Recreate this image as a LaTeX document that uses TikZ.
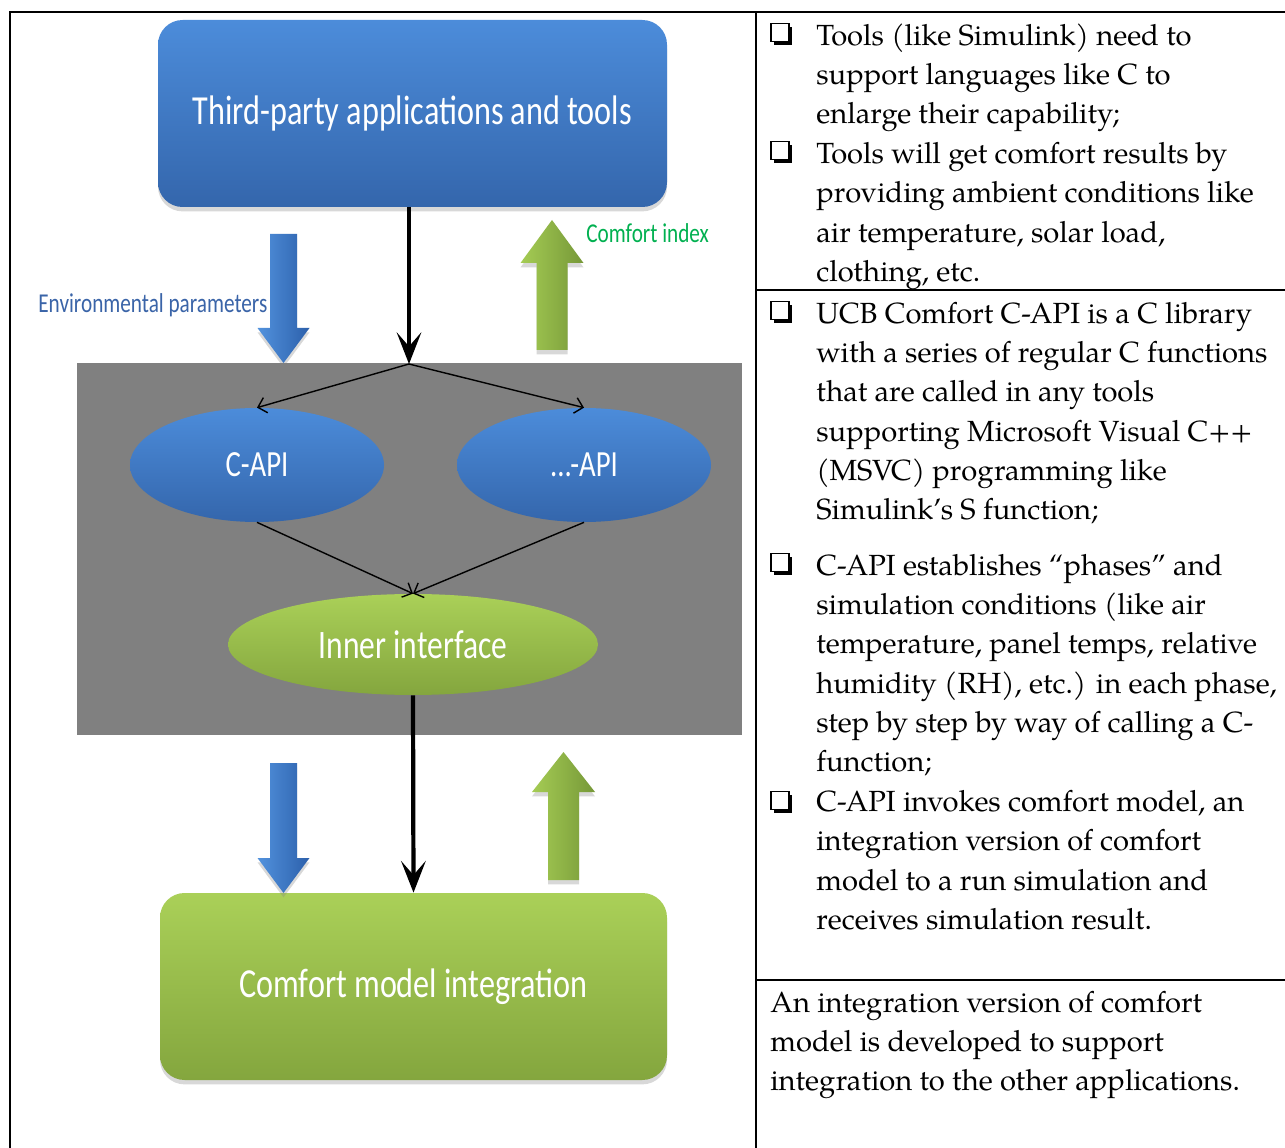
\documentclass[tikz,border=0pt]{standalone}
\usepackage{fontspec}
\setmainfont{TeX Gyre Pagella}
\newfontfamily\calfont[FakeStretch=0.78]{Carlito}
\usetikzlibrary{arrows.meta,shapes.geometric,shadows}
\def\pxu{0.02cm}
\definecolor{boxblueT}{RGB}{76,140,218}
\definecolor{boxblueB}{RGB}{52,102,172}
\definecolor{boxgreenT}{RGB}{170,208,88}
\definecolor{boxgreenB}{RGB}{132,166,62}
\definecolor{panelgray}{RGB}{128,128,128}
\definecolor{envblue}{RGB}{58,100,168}
\definecolor{cigreen}{RGB}{0,176,80}
\definecolor{arrblueL}{RGB}{82,146,222}
\definecolor{arrblueR}{RGB}{44,96,170}
\definecolor{arrgreenL}{RGB}{165,204,84}
\definecolor{arrgreenR}{RGB}{118,152,56}
\tikzset{
  softshadow/.style={drop shadow={opacity=0.3, shadow xshift=0pt, shadow yshift=-2.5pt}},
  bluebox/.style={rectangle, rounded corners=14pt, top color=boxblueT, bottom color=boxblueB, softshadow, inner sep=0pt, text=white},
  greenbox/.style={rectangle, rounded corners=14pt, top color=boxgreenT, bottom color=boxgreenB, softshadow, inner sep=0pt, text=white},
  blueell/.style={ellipse, top color=boxblueT, bottom color=boxblueB, softshadow, inner sep=0pt, text=white},
  greenell/.style={ellipse, top color=boxgreenT, bottom color=boxgreenB, softshadow, inner sep=0pt, text=white},
  panel/.style={rectangle, fill=panelgray, inner sep=0pt},
  bigfont/.style={font=\calfont\fontsize{23.5}{28}\selectfont},
  midfont/.style={font=\calfont\fontsize{21}{25}\selectfont},
  innerfont/.style={font=\calfont\fontsize{23}{27}\selectfont},
  lblfont/.style={font=\calfont\fontsize{15.5}{18}\selectfont},
  thickarrow/.style={line width=2.4pt, -{Stealth[length=18pt,width=14pt,inset=8pt]}},
  thinarrow/.style={line width=0.8pt, -{Straight Barb[length=4.5pt,width=9pt]}},
  rtext/.style={anchor=north west, inner sep=0pt, align=left, font=\fontsize{16.6}{22.34}\selectfont},
  chk/.style={draw=black, line width=0.9pt, fill=white, minimum size=18*\pxu, inner sep=0pt,
    drop shadow={fill=black, opacity=1, shadow xshift=1.8pt, shadow yshift=-1.8pt}},
  frame/.style={line width=1.1pt, black},
  bluearr/.style={left color=arrblueL, right color=arrblueR, softshadow},
  greenarr/.style={left color=arrgreenL, right color=arrgreenR, softshadow}
}
\newcommand\blockdown[5]{%
  \path[#5] (#1-13.5,#2) -- (#1+13.5,#2) -- (#1+13.5,#3) -- (#1+26,#3) -- (#1,#4) -- (#1-26,#3) -- (#1-13.5,#3) -- cycle;}
\newcommand\blockup[5]{%
  \path[#5] (#1-15.5,#2) -- (#1+15.5,#2) -- (#1+15.5,#3) -- (#1+31.5,#3) -- (#1,#4) -- (#1-31.5,#3) -- (#1-15.5,#3) -- cycle;}
\begin{document}
\begin{tikzpicture}[x=0.02cm, y=-0.02cm]
\useasboundingbox (0,0) rectangle (1285,1148);
\fill[white] (0,0) rectangle (1285,1148);

% frame lines
\draw[frame] (10,1148) -- (10,12) -- (1285,12);
\draw[frame] (756,12) -- (756,1148);
\draw[frame] (756,290) -- (1285,290);
\draw[frame] (756,980) -- (1285,980);

% gray panel
\node[panel, minimum width=665*\pxu, minimum height=372*\pxu] (panel) at (409.5,549) {};

% boxes
\node[bluebox, bigfont, minimum width=509*\pxu, minimum height=187*\pxu] (top) at (412.5,113.5) {Third-party applications and tools};
\node[greenbox, bigfont, minimum width=507*\pxu, minimum height=187*\pxu] (bottom) at (413.5,986.5) {Comfort model integration};

% ellipses
\node[blueell, midfont, minimum width=254*\pxu, minimum height=114*\pxu] (capi) at (257,465) {C-API};
\node[blueell, midfont, minimum width=254*\pxu, minimum height=114*\pxu] (oapi) at (584,465) {...-API};
\node[greenell, innerfont, minimum width=370*\pxu, minimum height=101*\pxu] (inner) at (413,644.5) {Inner interface};

% block arrows
\blockdown{283.5}{234}{328}{363}{bluearr}
\blockup{552}{350}{263}{220}{greenarr}
\blockdown{283.5}{763}{858}{893}{bluearr}
\blockup{563.5}{880}{792}{752}{greenarr}

% labels
\node[lblfont, text=envblue, anchor=west, inner sep=0pt] (envlbl) at (38,305) {Environmental parameters};
\node[lblfont, text=cigreen, anchor=west, inner sep=0pt] (cilbl) at (586,233) {Comfort index};

% connectors
\coordinate (fork) at (409,364);
\draw[thickarrow] (top.south -| fork) -- (fork);
\draw[thinarrow] (fork) -- (capi.north);
\draw[thinarrow] (fork) -- (oapi.north);
\draw[thinarrow] (capi.south) -- (inner.north);
\draw[thinarrow] (oapi.south) -- (inner.north);
\draw[thickarrow] (inner.south) -- (bottom.north);

% right text
\node[chk] (b1) at (780,32.5) {};
\node[rtext] (t1) at (816,17.5) {\strut Tools (like Simulink) need to\\support languages like C to\\enlarge their capability;};
\node[chk] (b2) at (780,150.7) {};
\node[rtext] (t2) at (816,135.7) {\strut Tools will get comfort results by\\providing ambient conditions like\\air temperature, solar load,\\clothing, etc.};
\node[chk] (b3) at (780,310.5) {};
\node[rtext] (t3) at (816,295.5) {\strut UCB Comfort C-API is a C library\\with a series of regular C functions\\that are called in any tools\\supporting Microsoft Visual C++\\(MSVC) programming like\\Simulink’s S function;};
\node[chk] (b4) at (780,562.5) {};
\node[rtext] (t4) at (816,547.5) {\strut C-API establishes “phases” and\\simulation conditions (like air\\temperature, panel temps, relative\\humidity (RH), etc.) in each phase,\\step by step by way of calling a C-\\function;};
\node[chk] (b5) at (780,800.5) {};
\node[rtext] (t5) at (816,783.9) {\strut C-API invokes comfort model, an\\integration version of comfort\\model to a run simulation and\\receives simulation result.};
\node[rtext] (t6) at (770,984.5) {\strut An integration version of comfort\\model is developed to support\\integration to the other applications.};
\end{tikzpicture}
\end{document}
